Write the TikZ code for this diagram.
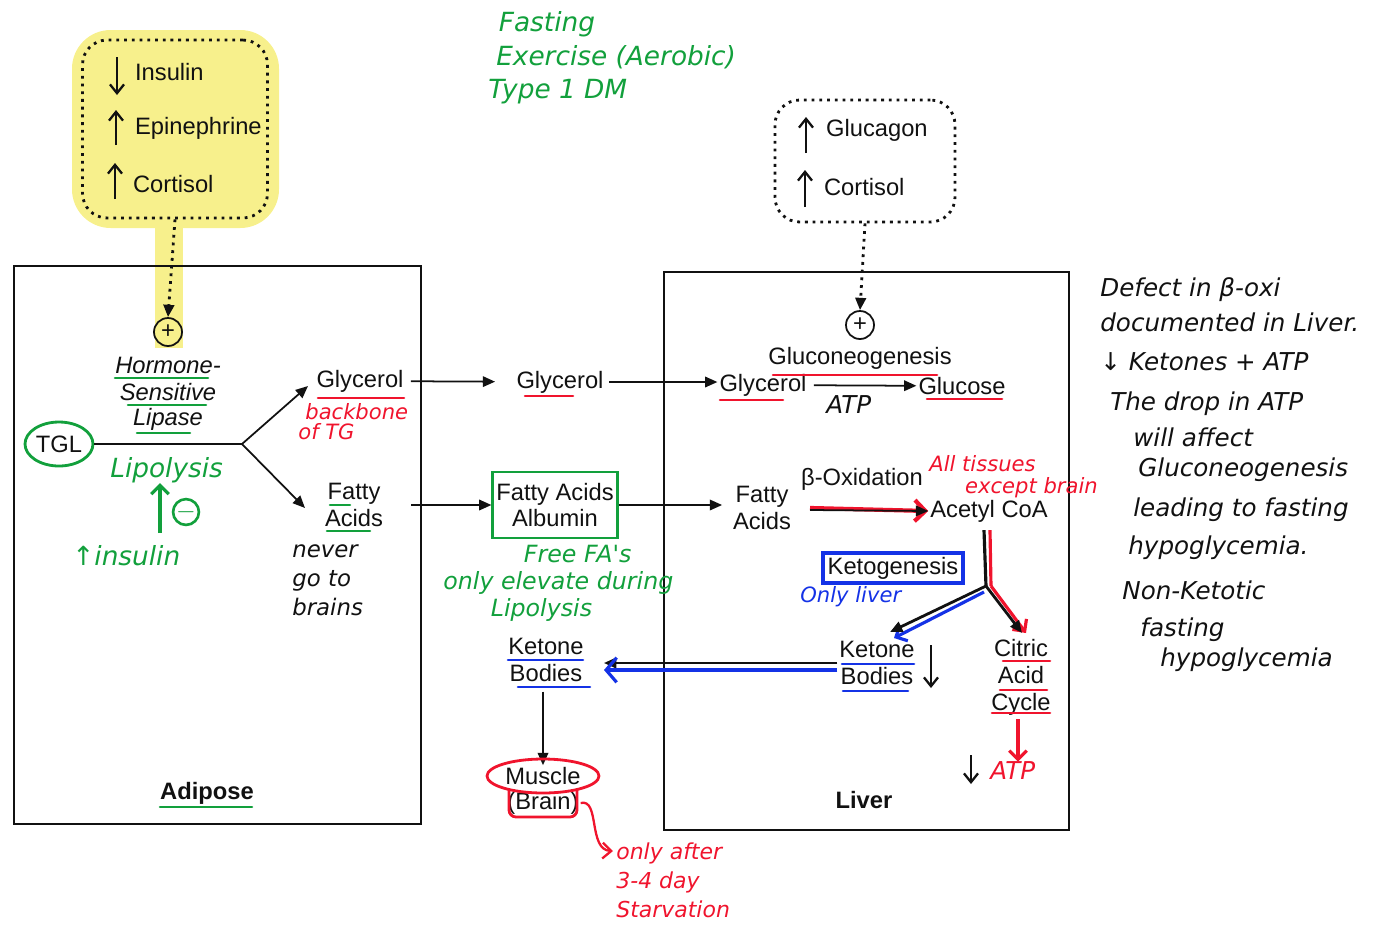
\documentclass[tikz,border=0pt]{standalone}
\usepackage{fontspec}
\setmainfont{Liberation Sans}
\newfontfamily\hand{DejaVu Sans}
\usetikzlibrary{arrows.meta, positioning, calc, shapes.geometric}
\definecolor{pen}{HTML}{111111}
\definecolor{gpen}{HTML}{12A03C}
\definecolor{rpen}{HTML}{F0142D}
\definecolor{bpen}{HTML}{1432E6}
\definecolor{hilite}{HTML}{F7F08C}

\begin{document}
\begin{tikzpicture}[
    x=0.02cm, y=-0.02cm,
    every node/.style={font=\fontsize{13.5}{15}\selectfont, text=pen, inner sep=1pt},
    note/.style={font=\hand\itshape\fontsize{13.5}{15}\selectfont, anchor=west, inner sep=0pt},
    gnote/.style={note, text=gpen},
    rnote/.style={note, text=rpen},
    bnote/.style={note, text=bpen},
    arr/.style={pen, line width=1pt, -{Triangle[length=7pt,width=6pt]}},
    dotarr/.style={pen, line width=1.6pt, dash pattern=on 1.6pt off 2.8pt, -{Triangle[length=7pt,width=6pt]}},
    dotbox/.style={draw=pen, line width=1.6pt, dash pattern=on 1.6pt off 2.8pt, rounded corners=14pt},
    plus/.style={circle, draw=pen, line width=1pt, minimum size=0.56cm, inner sep=0pt},
    uline/.style={line width=1.5pt, line cap=round},
    organ/.style={draw=pen, line width=1.2pt},
]
\useasboundingbox (0,0) rectangle (1377,924);

% yellow highlight on the adipose hormones
\fill[hilite, rounded corners=22pt] (72,30) rectangle (279,228);
\fill[hilite] (155,220) rectangle (183,348);

% the two organs
\draw[organ] (14,266) rectangle (421,824);
\draw[organ] (664,272) rectangle (1069,830);
\node[font=\bfseries\fontsize{13.5}{15}\selectfont] (adip) at (207,793) {Adipose};
\node[font=\bfseries\fontsize{13.5}{15}\selectfont] (liver) at (864,800) {Liver};

% hormones acting on adipose
\node[dotbox, minimum width=3.7cm, minimum height=3.56cm] (hbox) at (175,129) {};
\node[anchor=west] (ins) at (133,72) {Insulin};
\node[anchor=west] (epi) at (133,128) {Epinephrine};
\node[anchor=west] (cor) at (131,184) {Cortisol};
\node[plus, fill=hilite] (hsplus) at (168,332) {+};
\draw[dotarr] (hbox.south) -- (hsplus.north);

% hormones acting on liver
\node[dotbox, minimum width=3.6cm, minimum height=2.44cm] (gbox) at (865,161) {};
\node[anchor=west] (glg) at (824,130) {Glucagon};
\node[anchor=west] (cor2) at (822,187) {Cortisol};
\node[plus] (lplus) at (860,325) {+};
\draw[dotarr] (gbox.south) -- (lplus.north);

% hand drawn up / down arrows
\foreach \x/\ya/\yb in {117/57/95, 116/145/110, 115/199/163, 806/153/117, 805/207/170,
                        931/645/688, 971/755/784}{
    \draw[pen, line width=1.3pt, -{Straight Barb[length=5pt,width=8pt]}] (\x,\ya) -- (\x,\yb);
}

% lipolysis in adipose
\node[font=\itshape\fontsize{13.5}{15}\selectfont] (hsl1) at (168,365) {Hormone-};
\node[font=\itshape\fontsize{13.5}{15}\selectfont] (hsl2) at (168,392) {Sensitive};
\node[font=\itshape\fontsize{13.5}{15}\selectfont] (hsl3) at (168,419) {Lipase};
\node[ellipse, draw=gpen, line width=1.6pt, minimum width=1.36cm, minimum height=0.88cm, inner sep=0pt] (tgl) at (59,444) {TGL};
\coordinate (fork) at (242,444);
\node (gly1) at (360,381) {Glycerol};
\node[align=center] (fa1) at (354,505) {Fatty\\Acids};
\coordinate (toGly) at (308,386);
\coordinate (toFa) at (305,508);
\draw[pen, line width=1pt] (tgl) -- (fork);
\draw[arr] (fork) -- (toGly);
\draw[arr] (fork) -- (toFa);

\node[gnote, font=\hand\itshape\fontsize{15}{17}\selectfont] (lipo) at (110,470) {Lipolysis};
\node[circle, draw=gpen, line width=1.5pt, minimum size=0.42cm, inner sep=0pt, text=gpen] (minus) at (186,512) {$-$};
\coordinate (insup) at (160,533);
\draw[gpen, line width=1.8pt, -{Straight Barb[length=5pt,width=10pt]}] (insup) -- (lipo.south -| insup);
\node[gnote, font=\hand\itshape\fontsize{15}{17}\selectfont] (ins2) at (72,556) {↑insulin};
\node[rnote, font=\hand\itshape\fontsize{12}{11.5}\selectfont, align=left] (bbone) at (298,422) {\,\,backbone\\of TG};
\node[note, align=left, font=\hand\itshape\fontsize{13}{16.5}\selectfont] (never) at (292,580) {never\\go to\\brains};

% transport in blood
\node (gly2) at (560,382) {Glycerol};
\node[draw=gpen, line width=1.6pt, align=center, minimum width=2.48cm, minimum height=1.32cm, inner sep=2pt] (faalb) at (555,505) {Fatty Acids\\Albumin};
\draw[arr, shorten <=3pt, shorten >=11pt] (gly1) -- (gly2);
\draw[arr, shorten <=15pt] (fa1.east) -- (faalb.west);
\node[gnote, align=left, font=\hand\itshape\fontsize{13.5}{15.3}\selectfont] (free) at (443,583) {\hspace{3.4em}Free FA's\\only elevate during\\\hspace{2em}Lipolysis};
\node[align=center] (kb2) at (546,660) {Ketone\\Bodies};
\node (mus) at (543,776) {Muscle};
\node (brn) at (543,803) {(Brain)};
\draw[arr] (kb2.south) ++(-3,8) -- (mus.north -| 543,0);
\draw[rpen, line width=1.6pt] (mus) ellipse (1.12cm and 0.34cm);
\draw[rpen, line width=1.6pt, rounded corners=4pt] (509,790) -- (509,817) -- (577,817) -- (577,790);
\node[rnote, align=left, font=\hand\itshape\fontsize{12.5}{16.4}\selectfont] (starv) at (616,880) {only after\\3-4 day\\Starvation};
\draw[rpen, line width=1.3pt, -{Straight Barb[length=5pt,width=9pt]}] (brn.east) .. controls (600,798) and (588,850) .. (613,851);

% liver metabolism
\node (gly3) at (763,385) {Glycerol};
\node (glc) at (962,386) {Glucose};
\node (gng) at (860,358) {Gluconeogenesis};
\draw[arr, shorten <=2pt] (gly2.east) -- (gly2.east -| gly3.west);
\draw[arr, shorten <=3pt] (gly3) -- (glc);
\node[note, font=\hand\itshape\fontsize{14}{16}\selectfont] (atp1) at (826,405) {ATP};

\node[align=center] (lfa) at (762,508) {Fatty\\Acids};
\node (acoa) at (989,511) {Acetyl CoA};
\node (box) at (862,479) {β-Oxidation};
\draw[arr, shorten >=5pt] (faalb.east) -- (faalb.east -| lfa.west);
\draw[rpen, line width=2.4pt, -{Straight Barb[length=6pt,width=12pt]}] (810,508) -- (acoa.west);
\draw[arr] (810,510) -- (acoa.west);
\node[rnote, align=left, font=\hand\itshape\fontsize{12}{12.5}\selectfont] (alltis) at (929,477) {All tissues\\\hspace{1.7em}except brain};

\coordinate (kj) at (986,586);
\node[draw=bpen, line width=2pt, minimum width=2.8cm, minimum height=0.6cm, inner sep=0pt] (kg) at (893,568) {Ketogenesis};
\node[bnote, font=\hand\itshape\fontsize{12}{14}\selectfont] (oliv) at (800,597) {Only liver};
\node[align=center] (klb) at (877,663) {Ketone\\Bodies};
\node[align=center, font=\fontsize{13.5}{15.3}\selectfont] (cac) at (1021,677) {Citric\\Acid\\Cycle};
\coordinate (toKb) at (890,632);
\coordinate (toCac) at (1022,633);
\draw[rpen, line width=1.8pt] ($(acoa.south)+(1,6)$) -- ($(kj)+(5,0)$);
\draw[pen, line width=1.8pt] ($(acoa.south)+(-5,6)$) -- (kj);
\draw[bpen, line width=1.8pt, -{Straight Barb[length=5pt,width=10pt]}] ($(kj)+(-2,6)$) -- ($(toKb)+(4,6)$);
\draw[rpen, line width=1.8pt, -{Straight Barb[length=5pt,width=10pt]}] ($(kj)+(5,0)$) -- ($(toCac)+(4,0)$);
\draw[arr, line width=1.6pt] (kj) -- (toKb);
\draw[arr, line width=1.6pt] (kj) -- (toCac);
\node[rnote, font=\hand\itshape\fontsize{14}{16}\selectfont] (atpr) at (990,771) {ATP};
\draw[rpen, line width=1.8pt, -{Straight Barb[length=5pt,width=10pt]}] (cac.south) ++(-3,2) -- (atpr.north -| 1018,0);

% ketone bodies leave the liver
\draw[pen, line width=1.3pt, -{Triangle[length=7pt,width=6pt]}] (klb.west |- 0,663) -- (604,663);
\draw[bpen, line width=1.8pt, -{Straight Barb[length=6pt,width=14pt]}] (klb.west |- 0,670) -- (604,670);

% underlines in three pens
\foreach \a/\b/\y in {115/208/378, 128/206/405, 137/190/433, 330/350/505, 327/370/531, 160/252/807}{
    \draw[gpen, uline] (\a,\y) -- (\b,\y);
}
\foreach \a/\b/\y in {318/404/398, 525/573/396, 720/783/400, 773/937/375, 927/1002/399,
                      1003/1050/661, 1000/1047/690, 992/1050/713}{
    \draw[rpen, uline] (\a,\y) -- (\b,\y);
}
\foreach \a/\b/\y in {508/583/660, 518/590/687, 842/914/664, 843/908/691}{
    \draw[bpen, uline] (\a,\y) -- (\b,\y);
}

% conditions
\node[gnote, align=left, font=\hand\itshape\fontsize{15}{19}\selectfont] (cond) at (488,58) {\hspace{0.4em}Fasting\\\hspace{0.3em}Exercise (Aerobic)\\Type 1 DM};

% notes on the right
\foreach \x/\y/\t in {1100/290/Defect in β-oxi, 1100/322/documented in Liver., 1100/362/↓ Ketones + ATP,
                      1110/404/The drop in ATP, 1133/437/will affect, 1138/470/Gluconeogenesis,
                      1133/510/leading to fasting, 1128/548/hypoglycemia., 1122/590/Non-Ketotic,
                      1140/630/fasting, 1160/660/hypoglycemia}{
    \node[note, font=\hand\itshape\fontsize{14}{16}\selectfont] at (\x,\y) {\t};
}
\end{tikzpicture}
\end{document}
